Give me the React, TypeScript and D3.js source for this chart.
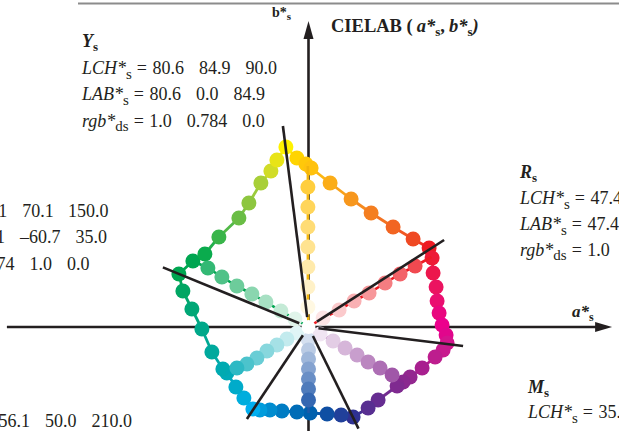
import React from "react";
import * as d3 from "d3";

// ---------- DATA (a*, b* units) ----------
const outlineA = [
  -11.3, -5.8, -1.3, 1.3, 10.8, 21.3, 31.3, 42.3, 52.3, 60.3,
  61.8, 62.3, 63.8, 64.3, 65.3, 66.8, 68.8, 69.3,
  67.3, 63.3, 56.8, 50.8, 47.3, 44.3, 34.8, 29.8, 22.3,
  16.3, 9.3, 0.8, -5.8, -13.3, -19.3, -24.3, -27.8,
  -32.3, -36.3, -40.8, -42.8, -48.3, -53.3, -58.3, -62.8, -64.8,
  -57.8, -51.8, -44.8, -34.8, -29.8, -23.8, -18.8, -15.8,
];
const outlineB = [
  90.0, 84.5, 81.5, 79.5, 72.0, 64.0, 57.0, 50.0, 44.0, 39.5,
  34.5, 27.0, 20.0, 13.0, 7.0, 1.0, -4.0, -8.0,
  -11.5, -15.0, -20.5, -25.0, -27.5, -29.5, -36.5, -40.5, -45.0,
  -44.0, -43.5, -43.0, -42.5, -42.0, -41.5, -41.5, -41.0,
  -35.5, -30.0, -23.0, -21.0, -12.5, -1.0, 9.0, 18.0, 26.5,
  33.0, 36.5, 45.0, 54.5, 62.0, 72.0, 78.0, 83.5,
];

const spokeNames = ["up", "red", "violet", "down", "cyan", "green"];
const spokeA = [
  [-0.3, -0.3, -0.3, -0.3, -0.3, -0.3, -0.3, -0.3],
  [7.3, 15.3, 22.8, 30.3, 38.3, 45.8, 53.3, 61.5],
  [5.8, 12.3, 18.3, 24.3, 29.8, 35.8, 41.8, 47.3],
  [0, 0, 0, 0, 0, 0, 0, 0],
  [-5.8, -10.8, -15.8, -20.8, -25.8, -30.8, -35.8, -41.3],
  [-6.8, -13.8, -21.3, -28.3, -35.8, -43.3, -50.3, -57.8],
];
const spokeB = [
  [10, 20, 30, 40, 50, 60, 70, 80.5],
  [4.5, 8.5, 13.0, 17.0, 22.0, 26.5, 30.5, 35.0],
  [-3.5, -7.0, -10.5, -14.0, -17.5, -20.5, -24.0, -27.5],
  [-6.5, -11.5, -16.0, -21.0, -26.0, -31.0, -36.5, -43.0],
  [-3.0, -6.0, -9.0, -12.0, -15.5, -18.5, -20.5, -23.0],
  [4.0, 8.0, 12.5, 16.5, 20.5, 25.0, 29.5, 33.0],
];

// primary directions (Y, R, M, B, C, G) marked by black lines
const primaryA = [-12.8, 67.8, 77.3, 25.0, -30.8, -72.8];
const primaryB = [100.5, 43.5, -9.5, -50.8, -46.0, 29.8];

// axes extents
const aAxisExtent = [-150.8, 151.8];
const bAxisExtent = [-52, 153];

// text blocks
const yTitle = "Y";
const yLCH = ["80.6", "84.9", "90.0"];
const yLAB = ["80.6", "0.0", "84.9"];
const yRGB = ["1.0", "0.784", "0.0"];
const rTitle = "R";
const rLCH = ["47.4", "67.8", "30.0"];
const rLAB = ["47.4", "58.7", "33.9"];
const rRGB = ["1.0", "0.0", "0.0"];
const mTitle = "M";
const mLCH = ["35.2", "69.5", "330.0"];
const gLCH = ["58.1", "70.1", "150.0"];
const gLAB = ["58.1", "\u201360.7", "35.0"];
const gRGB = ["0.474", "1.0", "0.0"];
const cLCH = ["56.1", "50.0", "210.0"];

// ---------- STYLE ----------
const outlineColors = [
  "#fff200", "#ffd400", "#ffc80a", "#ffc20e", "#fbad18", "#f7971d", "#f47e20", "#f26522", "#ef4923", "#ed1c24",
  "#ed1b36", "#ec174c", "#eb1360", "#ea0e70", "#e9077f", "#ec008c", "#e1068c", "#d4148d",
  "#c81a8e", "#bd1d8e", "#a8208f", "#93278f", "#8a288f", "#7f2a90", "#662d91", "#582f91", "#2e3192",
  "#21409a", "#0f4fa3", "#0060ae", "#006cb7", "#007cc3", "#008ccf", "#009cdc", "#00aeef",
  "#00addd", "#00abca", "#00aab8", "#00aab1", "#00a99d", "#00a88a", "#00a776", "#00a663", "#00a651",
  "#00a651", "#0aab4d", "#39b54a", "#6abd45", "#8dc63f", "#a8cf38", "#d1dc27", "#e8e417",
];
const spokeEndColors = ["#ffc20e", "#ed1c24", "#85278f", "#2a5fad", "#00aab7", "#00a651"];
const spokeLineColors = ["#f2b50c", "#ed1c24", "#85278f", "#1e5aa8", "#00a8b5", "#00a651"];
const spokeTStart = [0.12, 0.12, 0.12, 0.2, 0.12, 0.12];
const spokeTEnd = [0.8, 0.8, 0.78, 0.95, 0.82, 0.8];

const W = 619;
const H = 431;
const SERIF = "'Liberation Serif', 'Times New Roman', serif";
const INK = "#231f20";
const R_DOT = 7.5;

const x = d3.scaleLinear().domain([-100, 100]).range([108.5, 508.5]);
const y = d3.scaleLinear().domain([-100, 100]).range([527, 127]);

function ValLine({ px, py, label, sub, vals, anchor = "start" }: any) {
  return (
    <text x={px} y={py} fontFamily={SERIF} fontSize={18} fill={INK} textAnchor={anchor}>
      <tspan fontStyle="italic">{label}</tspan>
      <tspan fontSize={15} dy={4.5}>{sub}</tspan>
      <tspan dy={-4.5} dx={5}>=</tspan>
      {vals.map((v: string, i: number) => (
        <tspan key={i} dx={i === 0 ? 5.5 : 15}>{v}</tspan>
      ))}
    </text>
  );
}

function Title({ px, py, t }: any) {
  return (
    <text x={px} y={py} fontFamily={SERIF} fontSize={18} fontWeight="bold" fill={INK}>
      <tspan fontStyle="italic">{t}</tspan>
      <tspan fontSize={13} dy={4}>s</tspan>
    </text>
  );
}

export default function App() {
  const line = d3.line<[number, number]>().x((d) => x(d[0])).y((d) => y(d[1]));
  const outline: [number, number][] = outlineA.map((a, i) => [a, outlineB[i]]);
  const n = outline.length;

  const outlineSegs = outline.map((p, i) => {
    const q = outline[(i + 1) % n];
    const c = d3.interpolateRgb(outlineColors[i], outlineColors[(i + 1) % n])(0.5);
    return <path key={"os" + i} d={line([p, q]) || ""} stroke={c} strokeWidth={2.8} fill="none" />;
  });

  const spokes = spokeNames.map((name, s) => {
    const pts: [number, number][] = spokeA[s].map((a, i) => [a, spokeB[s][i]]);
    const dots = pts.slice(0, pts.length - 1);
    const ip = d3.interpolateRgb("#ffffff", spokeEndColors[s]);
    return (
      <g key={name}>
        <path d={line([[0, 0], ...pts]) || ""} stroke={spokeLineColors[s]} strokeWidth={2.6} fill="none" />
        {dots.map((p, i) => {
          const t = spokeTStart[s] + ((spokeTEnd[s] - spokeTStart[s]) * i) / (dots.length - 1);
          return <circle key={i} cx={x(p[0])} cy={y(p[1])} r={R_DOT} fill={ip(t)} />;
        })}
      </g>
    );
  });

  const blackLines = primaryA.map((a, i) => {
    const b = primaryB[i];
    const len = Math.hypot(a, b);
    const s = 5 / len;
    return (
      <line
        key={"bl" + i}
        x1={x(a * s)}
        y1={y(b * s)}
        x2={x(a)}
        y2={y(b)}
        stroke={INK}
        strokeWidth={2.6}
      />
    );
  });

  const ax0 = x(aAxisExtent[0]);
  const ax1 = x(aAxisExtent[1]);
  const by0 = y(bAxisExtent[0]);
  const by1 = y(bAxisExtent[1]);
  const cx0 = x(0);
  const cy0 = y(0);

  return (
    <svg width={W} height={H} style={{ position: "absolute", left: 0, top: 0 }}>
      <rect width={W} height={H} fill="#fff" />
      <line x1={78} y1={3.5} x2={W} y2={3.5} stroke="#8c8c8c" strokeWidth={2} />

      {/* axes */}
      <line x1={ax0} y1={cy0} x2={ax1 - 15} y2={cy0} stroke={INK} strokeWidth={2.6} />
      <path d={`M${ax1},${cy0} L${ax1 - 17},${cy0 - 5} L${ax1 - 17},${cy0 + 5} Z`} fill={INK} />
      <line x1={cx0} y1={by0} x2={cx0} y2={by1 + 15} stroke={INK} strokeWidth={2.6} />
      <path d={`M${cx0},${by1} L${cx0 - 5},${by1 + 18} L${cx0 + 5},${by1 + 18} Z`} fill={INK} />

      {/* outline */}
      <g>{outlineSegs}</g>
      <g>
        {outline.map((p, i) => (
          <circle key={"od" + i} cx={x(p[0])} cy={y(p[1])} r={R_DOT} fill={outlineColors[i]} />
        ))}
      </g>
      {spokes}
      <circle cx={cx0} cy={cy0} r={7} fill="#fff" />
      {blackLines}

      {/* labels */}
      <text x={272} y={17} fontFamily={SERIF} fontSize={14} fontWeight="bold" fill={INK}>
        <tspan>b*</tspan>
        <tspan fontSize={11} dy={3}>s</tspan>
      </text>
      <text x={331} y={32} fontFamily={SERIF} fontSize={18.5} fontWeight="bold" fill={INK}>
        <tspan>CIELAB (</tspan>
        <tspan fontStyle="italic" dx={4}>a*</tspan>
        <tspan fontSize={13} dy={4}>s</tspan>
        <tspan dy={-4}>,</tspan>
        <tspan fontStyle="italic" dx={4}>b*</tspan>
        <tspan fontSize={13} dy={4}>s</tspan>
        <tspan dy={-4} fontStyle="italic">)</tspan>
      </text>
      <text x={572} y={317} fontFamily={SERIF} fontSize={17} fontWeight="bold" fill={INK}>
        <tspan fontStyle="italic">a*</tspan>
        <tspan fontSize={12} dy={4}>s</tspan>
      </text>

      {/* Y block */}
      <Title px={82} py={47} t={yTitle} />
      <ValLine px={82} py={74} label="LCH*" sub="s" vals={yLCH} />
      <ValLine px={82} py={100} label="LAB*" sub="s" vals={yLAB} />
      <ValLine px={82} py={126.5} label="rgb*" sub="ds" vals={yRGB} />

      {/* R block */}
      <Title px={520} py={178} t={rTitle} />
      <ValLine px={520} py={204} label="LCH*" sub="s" vals={rLCH} />
      <ValLine px={520} py={230} label="LAB*" sub="s" vals={rLAB} />
      <ValLine px={520} py={255.5} label="rgb*" sub="ds" vals={rRGB} />

      {/* M block */}
      <Title px={528} py={393} t={mTitle} />
      <ValLine px={528} py={418} label="LCH*" sub="s" vals={mLCH} />

      {/* G block (cut at left) */}
      <ValLine px={108.5} py={217} label="LCH*" sub="s" vals={gLCH} anchor="end" />
      <ValLine px={107} py={243} label="LAB*" sub="s" vals={gLAB} anchor="end" />
      <ValLine px={89.5} py={269.5} label="rgb*" sub="ds" vals={gRGB} anchor="end" />

      {/* C block (cut at left) */}
      <ValLine px={132} py={427} label="LCH*" sub="s" vals={cLCH} anchor="end" />
    </svg>
  );
}
